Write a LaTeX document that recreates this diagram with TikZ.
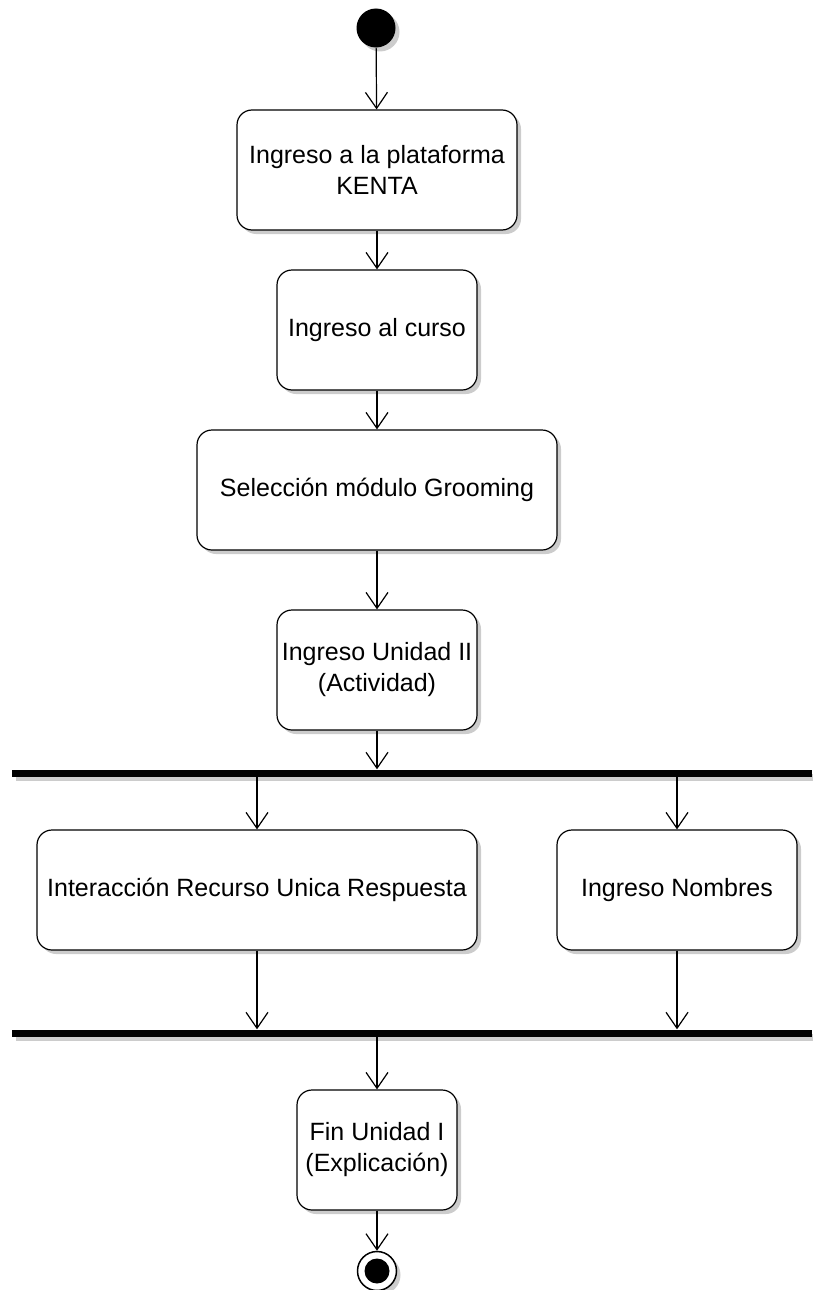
\documentclass[tikz,border=0pt]{standalone}
\usepackage{fontspec}
\setmainfont{Liberation Sans}
\usetikzlibrary{arrows.meta,shadows}
\begin{document}
\begin{tikzpicture}[x=1pt,y=-1pt,
  shade/.style={drop shadow={shadow xshift=4pt, shadow yshift=-4pt, fill=black!20, opacity=1}},
  act/.style={draw, line width=1.2pt, rounded corners=15pt, fill=white, align=center,
    inner sep=0pt, minimum height=120pt, shade,
    font=\fontsize{25}{31}\selectfont},
  syncbar/.style={fill=black, inner sep=0pt, minimum width=800pt, minimum height=7pt, shade},
  flow/.style={-{Straight Barb[length=16pt,width=22pt]}, line width=1.2pt}]
\useasboundingbox (0,0) rectangle (812,1290);

% start state
\node (start) [circle, fill=black, inner sep=0pt, minimum size=39pt, shade] at (376,28) {};

% actions
\node (plat)  [act, minimum width=280pt] at (377,170) {Ingreso a la plataforma\\KENTA};
\node (curso) [act, minimum width=200pt] at (377,330) {Ingreso al curso};
\node (mod)   [act, minimum width=360pt] at (377,490) {Selección módulo Grooming};
\node (unid)  [act, minimum width=200pt] at (377,670) {Ingreso Unidad II\\(Actividad)};
\node (recur) [act, minimum width=440pt] at (257,890) {Interacción Recurso Unica Respuesta};
\node (nomb)  [act, minimum width=240pt] at (677,890) {Ingreso Nombres};
\node (fin)   [act, minimum width=160pt] at (377,1150) {Fin Unidad I\\(Explicación)};

% fork and join bars
\node (fork) [syncbar] at (412,773) {};
\node (join) [syncbar] at (412,1033) {};

% final state
\node (stop) [circle, draw, line width=1.5pt, fill=white, inner sep=0pt, minimum size=39pt, shade] at (377,1271) {};
\node (stopdot) [circle, fill=black, inner sep=0pt, minimum size=25pt] at (stop) {};

% control flow
\draw[flow] (start) -- (plat);
\draw[flow] (plat) -- (curso);
\draw[flow] (curso) -- (mod);
\draw[flow] (mod) -- (unid);
\draw[flow] (unid.south) -- (unid.south |- fork.north);
\draw[flow] (recur.north |- fork.south) -- (recur.north);
\draw[flow] (nomb.north |- fork.south) -- (nomb.north);
\draw[flow] (recur.south) -- (recur.south |- join.north);
\draw[flow] (nomb.south) -- (nomb.south |- join.north);
\draw[flow] (fin.north |- join.south) -- (fin.north);
\draw[flow] (fin.south) -- (stop.north);
\end{tikzpicture}
\end{document}
